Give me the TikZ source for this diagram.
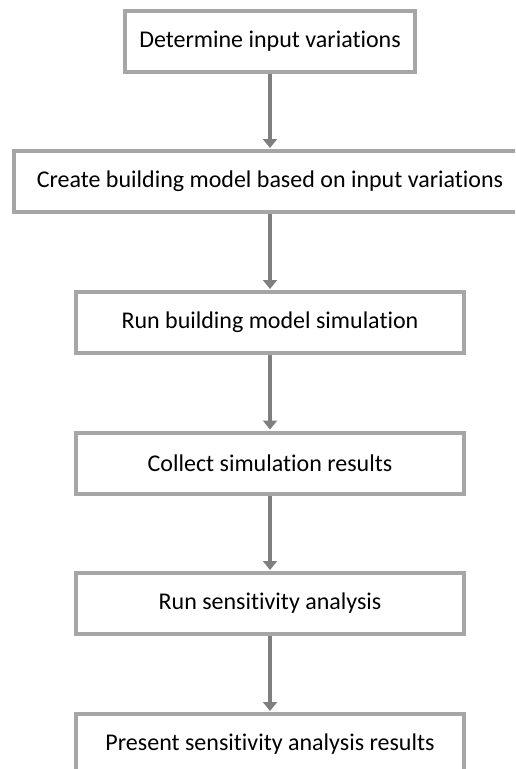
\documentclass[tikz,border=0pt]{standalone}
\usepackage{fontspec}
\setmainfont{Carlito}[RawFeature=-liga]
\usetikzlibrary{arrows.meta}
\definecolor{boxline}{HTML}{A6A6A6}
\definecolor{flowline}{HTML}{7F7F7F}
\tikzset{
  stepbox/.style={draw=boxline, line width=4pt, fill=white, inner sep=0pt,
    minimum height=61pt, font=\fontsize{24}{28}\selectfont, text=black},
  flow/.style={draw=flowline, line width=3.3pt,
    -{Triangle[width=14pt,length=9pt]}, shorten >=1pt},
}
\begin{document}
\begin{tikzpicture}[x=1pt,y=-1pt]
  \useasboundingbox (0,0) rectangle (515,769);
  \clip (0,0) rectangle (515,769);
  \node[stepbox, minimum width=290pt] (s1) at (270,41.5) {Determine input variations};
  \node[stepbox, minimum width=512pt] (s2) at (270,181.5) {Create building model based on input variations};
  \node[stepbox, minimum width=388pt] (s3) at (270,322.5) {Run building model simulation};
  \node[stepbox, minimum width=388pt] (s4) at (270,463) {Collect simulation results};
  \node[stepbox, minimum width=388pt] (s5) at (270,603.5) {Run sensitivity analysis};
  \node[stepbox, minimum width=388pt] (s6) at (270,744.5) {Present sensitivity analysis results};
  \draw[flow] (s1.south) -- (s2.north);
  \draw[flow] (s2.south) -- (s3.north);
  \draw[flow] (s3.south) -- (s4.north);
  \draw[flow] (s4.south) -- (s5.north);
  \draw[flow] (s5.south) -- (s6.north);
\end{tikzpicture}
\end{document}
